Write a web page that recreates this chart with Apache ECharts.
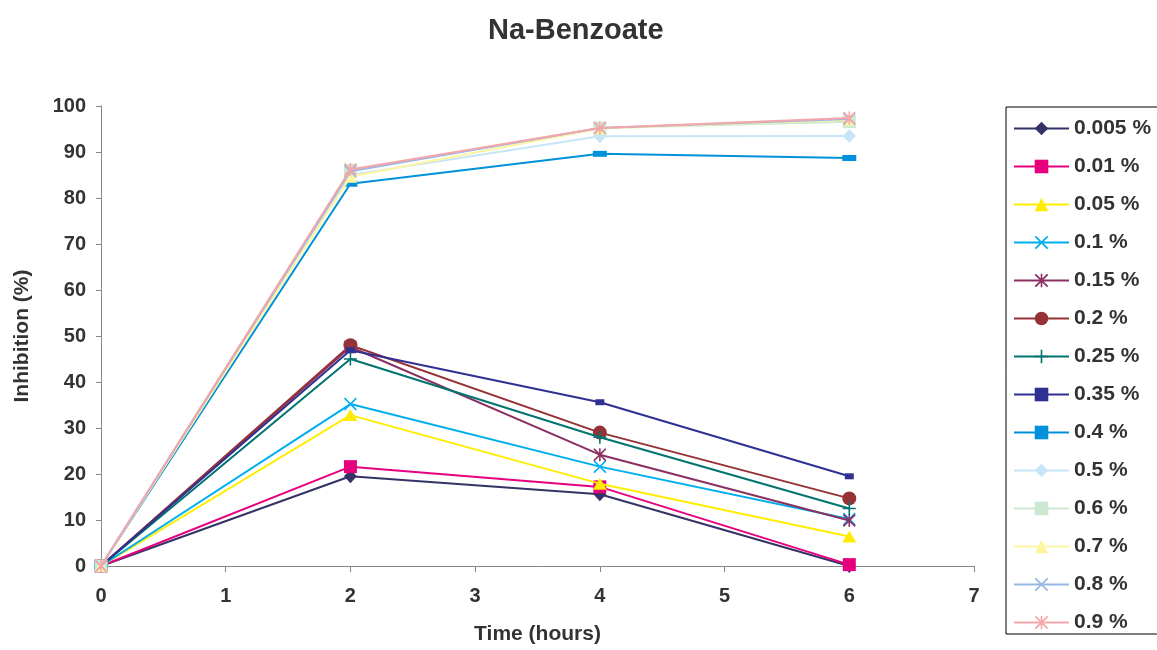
<!DOCTYPE html>
<html>
<head>
<meta charset="utf-8">
<script src="https://cdn.jsdelivr.net/npm/echarts@6/dist/echarts.min.js"></script>
<style>
  html, body { margin: 0; padding: 0; background: #fff; }
  #chart { width: 1157px; height: 650px; }
</style>
</head>
<body>
<div id="chart"></div>
<script>
// Sampling times (hours)
const times = [0, 2, 4, 6];

// Concentration labels
const concentrations = ['0.005 %', '0.01 %', '0.05 %', '0.1 %', '0.15 %', '0.2 %', '0.25 %',
  '0.35 %', '0.4 %', '0.5 %', '0.6 %', '0.7 %', '0.8 %', '0.9 %'];

// Inhibition (%) per concentration at each time
const c0005 = [0, 19.5, 15.6, 0];
const c001  = [0, 21.6, 17.2, 0.3];
const c005  = [0, 32.8, 17.9, 6.4];
const c01   = [0, 35.2, 21.6, 10.2];
const c015  = [0, 47.6, 24.2, 9.9];
const c02   = [0, 48.0, 29.0, 14.7];
const c025  = [0, 45.0, 28.0, 12.5];
const c035  = [0, 46.9, 35.6, 19.5];
const c04   = [0, 83.1, 89.6, 88.7];
const c05   = [0, 85.0, 93.4, 93.5];
const c06   = [0, 86.0, 95.2, 96.6];
const c07   = [0, 84.6, 95.1, 97.0];
const c08   = [0, 85.8, 95.2, 97.2];
const c09   = [0, 86.2, 95.2, 97.4];

const values = [c0005, c001, c005, c01, c015, c02, c025, c035, c04, c05, c06, c07, c08, c09];

// Axis ticks
const yTicks = { min: 0, max: 100, step: 10 };
const xTicks = { min: 0, max: 7, step: 1 };

const colors = ['#333366', '#e6007e', '#ffed00', '#00aeef', '#8b2f62', '#963236', '#007470',
  '#2e3192', '#0091da', '#c6e6f7', '#cce8d3', '#fff5a1', '#97b8e4', '#f5a6ab'];

// Marker shapes
const X_PATH = 'path://M0,0.9L0.9,0L5,4.1L9.1,0L10,0.9L5.9,5L10,9.1L9.1,10L5,5.9L0.9,10L0,9.1L4.1,5Z';
const PLUS_PATH = 'path://M4.4,0H5.6V4.4H10V5.6H5.6V10H4.4V5.6H0V4.4H4.4Z';
const STAR_PATH = 'path://M0,0.9L0.9,0L5,4.1L9.1,0L10,0.9L5.9,5L10,9.1L9.1,10L5,5.9L0.9,10L0,9.1L4.1,5Z' +
  'M4.4,0H5.6V10H4.4Z';

const markers = [
  ['diamond', [13, 14]], ['rect', [13, 13]], ['triangle', [14, 12]], [X_PATH, [13, 13]],
  [STAR_PATH, [13, 13]], ['circle', [14, 14]], [PLUS_PATH, [13, 13]], ['rect', [9, 6]],
  ['rect', [14, 6]], ['diamond', [13, 14]], ['rect', [13, 13]], ['triangle', [14, 12]],
  [X_PATH, [13, 13]], [STAR_PATH, [13, 13]]
];

const FONT = "'Liberation Sans', Arial, Helvetica, sans-serif";
const TEXT = '#333333';

const series = concentrations.map((name, i) => ({
  name: name,
  type: 'line',
  data: times.map((t, k) => [t, values[i][k]]),
  symbol: markers[i][0],
  symbolSize: markers[i][1],
  showAllSymbol: true,
  lineStyle: { color: colors[i], width: 2 },
  itemStyle: { color: colors[i], opacity: 1 },
  emphasis: { disabled: true },
  animation: false,
  z: 2 + i
}));

const chart = echarts.init(document.getElementById('chart'), null, { renderer: 'canvas' });
chart.setOption({
  backgroundColor: '#ffffff',
  animation: false,
  title: {
    text: 'Na-Benzoate',
    left: 483,
    top: 11,
    textStyle: { fontFamily: FONT, fontWeight: 'bold', fontSize: 29, color: TEXT }
  },
  legend: {
    orient: 'vertical',
    left: 1006,
    top: 107,
    padding: [11, 60, 1, 7],
    itemGap: 17,
    itemWidth: 55,
    itemHeight: 17,
    borderColor: '#000000',
    borderWidth: 1,
    lineStyle: { width: 2 },
    textStyle: { fontFamily: FONT, fontWeight: 'bold', fontSize: 21, color: TEXT, lineHeight: 21 },
    data: concentrations
  },
  grid: { left: 101, top: 106, width: 873, height: 460 },
  xAxis: {
    type: 'value',
    min: xTicks.min,
    max: xTicks.max,
    interval: xTicks.step,
    name: 'Time (hours)',
    nameLocation: 'middle',
    nameGap: 58,
    nameTextStyle: { fontFamily: FONT, fontWeight: 'bold', fontSize: 21, color: TEXT },
    axisLine: { lineStyle: { color: '#868686', width: 1 } },
    axisTick: { show: true, length: 6, lineStyle: { color: '#868686' } },
    axisLabel: { margin: 20, fontFamily: FONT, fontWeight: 'bold', fontSize: 20, color: TEXT },
    splitLine: { show: false }
  },
  yAxis: {
    type: 'value',
    min: yTicks.min,
    max: yTicks.max,
    interval: yTicks.step,
    name: 'Inhibition (%)',
    nameLocation: 'middle',
    nameGap: 68,
    nameTextStyle: { fontFamily: FONT, fontWeight: 'bold', fontSize: 21, color: TEXT },
    axisLine: { show: true, lineStyle: { color: '#868686', width: 1 } },
    axisTick: { show: true, length: 5, lineStyle: { color: '#868686' } },
    axisLabel: { margin: 15, fontFamily: FONT, fontWeight: 'bold', fontSize: 20, color: TEXT },
    splitLine: { show: false }
  },
  series: series
});
</script>
</body>
</html>
